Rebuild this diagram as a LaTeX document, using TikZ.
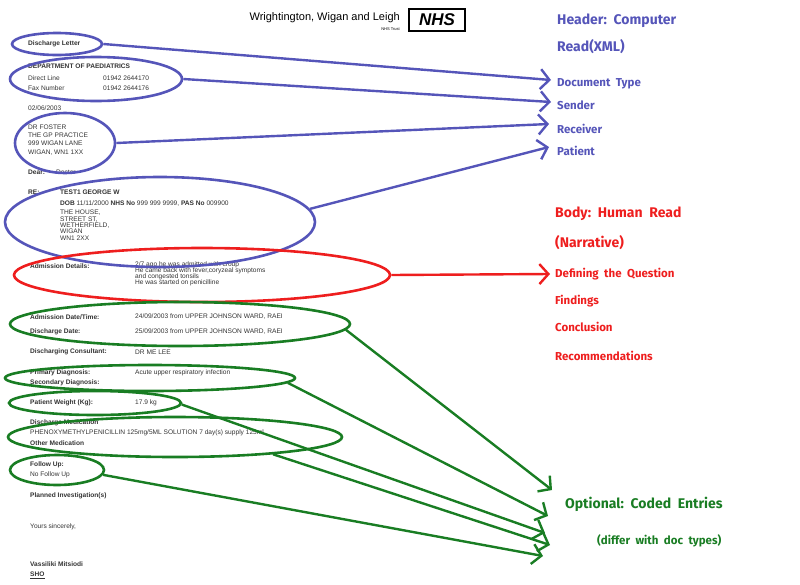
\documentclass[tikz,border=0pt]{standalone}
\usepackage{fontspec}
\setmainfont{Liberation Sans}
\newfontfamily\hand{Fira Sans}
\usetikzlibrary{arrows.meta,shapes.geometric}
\definecolor{hblue}{RGB}{85,85,185}
\definecolor{hred}{RGB}{238,30,30}
\definecolor{hgreen}{RGB}{25,125,35}
\begin{document}
\begin{tikzpicture}[x=1pt,y=-1pt,
  doc/.style={anchor=west,inner sep=0,font=\fontsize{6.6}{7.5}\selectfont,text=black!80},
  docb/.style={doc,font=\fontsize{6.6}{7.5}\selectfont\bfseries},
  ring/.style={draw,line width=2.6,ellipse},
  con/.style={line width=2.4,-{Straight Barb[length=9,width=20,line width=2.4]}},
  ann/.style={anchor=west,inner sep=0,font=\hand\fontsize{14}{16}\selectfont\bfseries},
  anns/.style={anchor=west,inner sep=0,font=\hand\fontsize{11.5}{13}\selectfont\bfseries}]
\useasboundingbox (0,0) rectangle (800,584);
% letterhead
\node[anchor=east,inner sep=0,font=\fontsize{11}{12}\selectfont] (trust) at (400,18) {Wrightington, Wigan and Leigh};
\node[anchor=east,inner sep=0,font=\fontsize{4}{5}\selectfont] (trust2) at (400,29) {NHS Trust};
\node[draw,line width=1.5,inner sep=1pt,font=\bfseries\itshape\fontsize{17}{17}\selectfont,minimum width=56,minimum height=22] (nhs) at (437,20) {NHS};
% document text
\node[docb] (t1) at (28,44) {Discharge Letter};
\node[docb] (t2) at (28,66) {DEPARTMENT OF PAEDIATRICS};
\node[doc] (t3) at (28,78) {Direct Line}; \node[doc] (t3b) at (103,78) {01942 2644170};
\node[doc] (t4) at (28,88) {Fax Number}; \node[doc] (t4b) at (103,88) {01942 2644176};
\node[doc] (t5) at (28,108) {02/06/2003};
\node[doc,align=left] (t6) at (28,140) {DR FOSTER\\[0.6pt]THE GP PRACTICE\\[0.6pt]999 WIGAN LANE\\[0.6pt]WIGAN, WN1 1XX};
\node[docb] (t7) at (28,172) {Dear:}; \node[doc] (t7b) at (56,172) {Doctor};
\node[docb] (t8) at (28,192) {RE:}; \node[docb] (t8b) at (60,192) {TEST1 GEORGE W};
\node[doc] (t9) at (60,204) {\textbf{DOB} 11/11/2000 \textbf{NHS No} 999 999 9999, \textbf{PAS No} 009900};
\node[doc,align=left,anchor=north west] (t10) at (60,210) {THE HOUSE,\\[-1.2pt]STREET ST,\\[-1.2pt]WETHERFIELD,\\[-1.2pt]WIGAN\\[-1.2pt]WN1 2XX};
\node[docb] (t11) at (30,266) {Admission Details:};
\node[doc,align=left,anchor=north west] (t11b) at (135,262) {2/7 ago he was admitted with croup\\[-1.5pt]He came back with fever,coryzeal symptoms\\[-1.5pt]and congested tonsils\\[-1.5pt]He was started on penicilline};
\node[docb] (t12) at (30,317) {Admission Date/Time:}; \node[doc] (t12b) at (135,317) {24/09/2003 from UPPER JOHNSON WARD, RAEI};
\node[docb] (t13) at (30,332) {Discharge Date:}; \node[doc] (t13b) at (135,332) {25/09/2003 from UPPER JOHNSON WARD, RAEI};
\node[docb] (t14) at (30,352) {Discharging Consultant:}; \node[doc] (t14b) at (135,352) {DR ME LEE};
\node[docb] (t15) at (30,373) {Primary Diagnosis:}; \node[doc] (t15b) at (135,373) {Acute upper respiratory infection};
\node[docb] (t16) at (30,383) {Secondary Diagnosis:};
\node[docb] (t17) at (30,403) {Patient Weight (Kg):}; \node[doc] (t17b) at (135,403) {17.9 kg};
\node[docb] (t18) at (30,423) {Discharge Medication};
\node[doc] (t19) at (30,433) {PHENOXYMETHYLPENICILLIN 125mg/5ML SOLUTION 7 day(s) supply 125ml};
\node[docb] (t20) at (30,443) {Other Medication};
\node[docb] (t21) at (30,465) {Follow Up:}; \node[doc] (t21b) at (30,475) {No Follow Up};
\node[docb] (t22) at (30,496) {Planned Investigation(s)};
\node[doc] (t23) at (30,527) {Yours sincerely,};
\node[docb] (t24) at (30,564) {Vassiliki Mitsiodi};
\node[docb] (t25) at (30,575) {\underline{SHO}};
% ellipses
\begin{scope}[hblue]
\node[ring,minimum width=90,minimum height=22] (e1) at (57,44) {};
\node[ring,minimum width=172,minimum height=44] (e2) at (96,79) {};
\node[ring,minimum width=100,minimum height=60] (e3) at (65,143) {};
\node[ring,minimum width=310,minimum height=90] (e4) at (160,222) {};
\end{scope}
\node[ring,hred,minimum width=376,minimum height=54] (e5) at (202,275) {};
\begin{scope}[hgreen]
\node[ring,minimum width=340,minimum height=44] (g1) at (180,324) {};
\node[ring,minimum width=290,minimum height=26] (g2) at (150,378) {};
\node[ring,minimum width=172,minimum height=24] (g3) at (95,403) {};
\node[ring,minimum width=334,minimum height=40] (g4) at (175,437) {};
\node[ring,minimum width=94,minimum height=30] (g5) at (57,470) {};
\end{scope}
% annotations
\node[ann,hblue] (h1) at (557,21) {Header:\ \ Computer};
\node[ann,hblue] (h2) at (557,47) {Read(XML)};
\node[anns,hblue] (dt) at (557,84) {Document\ \ Type};
\node[anns,hblue] (se) at (557,105) {Sender};
\node[anns,hblue] (re) at (557,129) {Receiver};
\node[anns,hblue] (pa) at (557,151) {Patient};
\node[ann,hred] (b1) at (555,214) {Body:\ \ Human\ \ Read};
\node[ann,hred] (b2) at (555,243) {(Narrative)};
\node[anns,hred] (dq) at (555,274) {Defining\ \ the\ \ Question};
\node[anns,hred] (fi) at (555,301) {Findings};
\node[anns,hred] (co) at (555,327) {Conclusion};
\node[anns,hred] (rc) at (555,356) {Recommendations};
\node[ann,hgreen] (op) at (565,504) {Optional:\ \ Coded\ \ Entries};
\node[anns,hgreen] (df) at (597,541) {(differ\ \ with\ \ doc\ \ types)};
% connectors
\coordinate (a1) at (551,80); \coordinate (a2) at (551,102);
\coordinate (a3) at (549,124); \coordinate (a4) at (549,147);
\coordinate (a5) at (550,274);
\coordinate (c1) at (552,490); \coordinate (c2) at (548,516);
\coordinate (c3) at (545,533); \coordinate (c4) at (550,545); \coordinate (c5) at (543,556);
\begin{scope}[hblue]
\draw[con] (e1.east) -- (a1);
\draw[con] (e2.east) -- (a2);
\draw[con] (e3.east) -- (a3);
\draw[con] (e4.5) -- (a4);
\end{scope}
\draw[con,hred] (e5.east) -- (a5);
\begin{scope}[hgreen]
\draw[con] (g1.-2) -- (c1);
\draw[con] (g2.-2) -- (c2);
\draw[con] (g3.-1) -- (c3);
\draw[con] (g4.-10) -- (c4);
\draw[con] (g5.-6) -- (c5);
\end{scope}
\end{tikzpicture}
\end{document}
